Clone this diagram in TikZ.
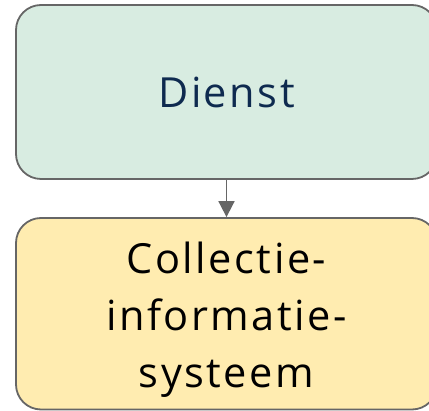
\documentclass[tikz,border=0pt]{standalone}
\usepackage{fontspec}
\setmainfont{Open Sans}[LetterSpace=6]
\usetikzlibrary{arrows.meta}
\definecolor{topfill}{HTML}{D8ECE1}
\definecolor{botfill}{HTML}{FFECB0}
\definecolor{edgegray}{HTML}{666666}
\definecolor{navy}{HTML}{0E2A4F}
\tikzset{
  card/.style={draw=edgegray, line width=1.8pt, rounded corners=25pt, align=center,
    minimum width=421pt, inner sep=0pt, font=\fontsize{41.5}{57}\selectfont},
  link/.style={draw=edgegray, line width=1.8pt, -{Triangle[width=16pt,length=16pt]}}
}
\begin{document}
\begin{tikzpicture}[x=1pt,y=-1pt]
\useasboundingbox (0,0) rectangle (429,411);
\node[card, fill=topfill, text=navy, minimum height=174pt] (dienst) at (226.5,92) {Dienst};
\node[card, fill=botfill, text=black, minimum height=191.5pt] (cis) at (226.5,313.75)
  {\rule{0pt}{43pt}Collectie-\\informatie-\\systeem};
\draw[link] (dienst) -- (cis);
\end{tikzpicture}
\end{document}
